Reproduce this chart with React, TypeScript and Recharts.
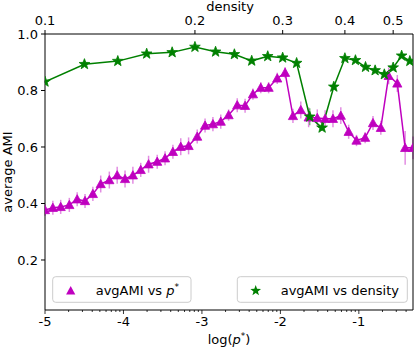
import React from "react"
import { LineChart, Line, XAxis, YAxis, ErrorBar } from "recharts"

// avgAMI vs log(p*)  (bottom axis)
const logP = [
  -5.0, -4.9, -4.8, -4.69, -4.59, -4.49, -4.39, -4.29, -4.18, -4.08,
  -3.98, -3.88, -3.78, -3.68, -3.57, -3.47, -3.37, -3.27, -3.17, -3.06,
  -2.96, -2.86, -2.76, -2.66, -2.55, -2.45, -2.35, -2.25, -2.15, -2.04,
  -1.94, -1.84, -1.74, -1.64, -1.53, -1.43, -1.33, -1.23, -1.13, -1.03,
  -0.92, -0.82, -0.72, -0.62, -0.51, -0.41, -0.31,
]
const amiP = [
  0.377, 0.385, 0.388, 0.395, 0.415, 0.409, 0.434, 0.469, 0.483, 0.5,
  0.487, 0.5, 0.519, 0.539, 0.548, 0.56, 0.583, 0.601, 0.604, 0.637,
  0.676, 0.681, 0.69, 0.713, 0.748, 0.746, 0.787, 0.81, 0.81, 0.843,
  0.863, 0.71, 0.731, 0.705, 0.703, 0.7, 0.7, 0.711, 0.654, 0.623,
  0.633, 0.685, 0.668, 0.852, 0.825, 0.597, 0.597,
]
const errP = [
  0.02, 0.025, 0.025, 0.025, 0.025, 0.025, 0.025, 0.03, 0.03, 0.03,
  0.03, 0.03, 0.025, 0.03, 0.025, 0.025, 0.025, 0.03, 0.03, 0.025,
  0.025, 0.025, 0.025, 0.02, 0.025, 0.025, 0.02, 0.02, 0.02, 0.02,
  0.02, 0.025, 0.03, 0.035, 0.03, 0.03, 0.03, 0.03, 0.025, 0.02,
  0.02, 0.025, 0.025, 0.03, 0.03, 0.06, 0.04,
]

// avgAMI vs density  (top axis, log scale)
const density = [
  0.1, 0.12, 0.14, 0.16, 0.18, 0.2, 0.22, 0.24, 0.26, 0.28, 0.3, 0.32,
  0.34, 0.36, 0.38, 0.4, 0.42, 0.44, 0.46, 0.48, 0.5, 0.52, 0.54,
]
const amiD = [
  0.831, 0.893, 0.904, 0.93, 0.935, 0.954, 0.937, 0.928, 0.905, 0.921,
  0.916, 0.897, 0.707, 0.668, 0.813, 0.914, 0.907, 0.883, 0.871, 0.857,
  0.881, 0.923, 0.904,
]
const errD = [
  0.004, 0.004, 0.004, 0.004, 0.004, 0.004, 0.004, 0.004, 0.004, 0.004,
  0.004, 0.006, 0.03, 0.01, 0.006, 0.004, 0.004, 0.004, 0.004, 0.004,
  0.004, 0.004, 0.004,
]

const bottomTicks = [-5, -4, -3, -2, -1]
const densityTicks = [0.1, 0.2, 0.3, 0.4, 0.5]
const yTicks = [0.2, 0.4, 0.6, 0.8, 1.0]

const MAGENTA = "#bf00bf"
const GREEN = "#008000"
const FONT = "DejaVu Sans"

const pData = logP.map((lp, i) => ({ lp, ami: amiP[i], err: errP[i] }))
const dData = density.map((d, i) => ({ d, ami: amiD[i], err: errD[i] }))

// log-style minor ticks between the integer ticks
const minorTicks: number[] = []
bottomTicks.forEach((n) => {
  for (let k = 2; k <= 9; k++) {
    const v = n + Math.log10(k)
    if (v < -0.31) minorTicks.push(v)
  }
})
const allBottomTicks = [...bottomTicks, ...minorTicks].sort((a, b) => a - b)

const triPoints = (cx: number, cy: number, r = 4.6) =>
  `${cx},${cy - r} ${cx - r},${cy + r * 0.8} ${cx + r},${cy + r * 0.8}`

const starPoints = (cx: number, cy: number, R = 5.6, r = 2.3) => {
  const pts: string[] = []
  for (let i = 0; i < 10; i++) {
    const rad = i % 2 === 0 ? R : r
    const a = -Math.PI / 2 + (i * Math.PI) / 5
    pts.push(`${cx + rad * Math.cos(a)},${cy + rad * Math.sin(a)}`)
  }
  return pts.join(" ")
}

const TriDot = (props: any) => {
  const { cx, cy, index } = props
  if (cx == null || cy == null) return <g key={index} />
  return <polygon key={index} points={triPoints(cx, cy)} fill={MAGENTA} stroke={MAGENTA} strokeWidth={0.8} />
}

const StarDot = (props: any) => {
  const { cx, cy, index } = props
  if (cx == null || cy == null) return <g key={index} />
  return <polygon key={index} points={starPoints(cx, cy)} fill={GREEN} stroke={GREEN} strokeWidth={0.8} />
}

const BottomTick = (props: any) => {
  const { x, y, payload } = props
  const major = bottomTicks.includes(payload.value)
  return (
    <g>
      <line x1={x} x2={x} y1={y} y2={y + (major ? 4 : 2)} stroke="#000" strokeWidth={0.8} />
      {major && (
        <text x={x} y={y + 16} textAnchor="middle" fontSize={13} fontFamily={FONT} fill="#000">
          {payload.value}
        </text>
      )}
    </g>
  )
}

export default function App() {
  return (
    <div style={{ position: "relative", width: 415, height: 349, fontFamily: FONT }}>
      <style>{"body{margin:0}"}</style>
      <LineChart width={415} height={349} margin={{ top: 0, right: 0, bottom: 0, left: 0 }}>
        <XAxis
          xAxisId="bottom"
          dataKey="lp"
          type="number"
          domain={[-5, -0.31]}
          allowDataOverflow
          ticks={allBottomTicks}
          interval={0}
          tick={<BottomTick />}
          tickLine={false}
          tickSize={0}
          tickMargin={0}
          height={39}
          axisLine={{ stroke: "#000" }}
        />
        <XAxis
          xAxisId="top"
          orientation="top"
          dataKey="d"
          type="number"
          scale="log"
          domain={[0.1, 0.548]}
          allowDataOverflow
          ticks={densityTicks}
          interval={0}
          tickFormatter={(v: number) => v.toFixed(1)}
          tick={{ fontSize: 13, fill: "#000", fontFamily: FONT }}
          tickLine={{ stroke: "#000" }}
          tickSize={4}
          tickMargin={5}
          height={34}
          axisLine={{ stroke: "#000" }}
        />
        <YAxis
          type="number"
          domain={[0.023, 1.0]}
          allowDataOverflow
          ticks={yTicks}
          interval={0}
          tickFormatter={(v: number) => v.toFixed(1)}
          tick={{ fontSize: 13, fill: "#000", fontFamily: FONT }}
          tickLine={{ stroke: "#000" }}
          tickSize={4}
          tickMargin={3}
          width={45}
          axisLine={{ stroke: "#000" }}
        />
        <YAxis yAxisId="r" orientation="right" width={2} tick={false} tickLine={false} axisLine={{ stroke: "#000" }} />
        <Line
          xAxisId="bottom"
          data={pData}
          dataKey="ami"
          stroke={MAGENTA}
          strokeWidth={1.5}
          dot={TriDot}
          activeDot={false}
          isAnimationActive={false}
        >
          <ErrorBar dataKey="err" direction="y" width={0} stroke={MAGENTA} strokeOpacity={0.45} strokeWidth={1.5} />
        </Line>
        <Line
          xAxisId="top"
          data={dData}
          dataKey="ami"
          stroke={GREEN}
          strokeWidth={1.5}
          dot={StarDot}
          activeDot={false}
          isAnimationActive={false}
        >
          <ErrorBar dataKey="err" direction="y" width={0} stroke={GREEN} strokeOpacity={0.5} strokeWidth={1.5} />
        </Line>
      </LineChart>
      <svg width={415} height={349} style={{ position: "absolute", left: 0, top: 0, pointerEvents: "none" }}>
        <text x={230} y={11} textAnchor="middle" fontSize={13} fontFamily={FONT} fill="#000">density</text>
        <text x={229} y={344} textAnchor="middle" fontSize={13} fontFamily={FONT} fill="#000">
          log(<tspan fontStyle="italic">p</tspan>
          <tspan fontSize={9} dy={-5}>*</tspan>
          <tspan dy={5}>)</tspan>
        </text>
        <text
          x={12}
          y={172}
          textAnchor="middle"
          fontSize={13}
          fontFamily={FONT}
          fill="#000"
          transform="rotate(-90 12 172)"
        >
          average AMI
        </text>
        <rect x={52.7} y={276.7} width={138.3} height={25.6} rx={3} fill="#fff" fillOpacity={0.8} stroke="#cccccc" />
        <polygon points={triPoints(70.7, 290.7)} fill={MAGENTA} />
        <text x={95.7} y={294.5} fontSize={13} fontFamily={FONT} fill="#000">
          avgAMI vs <tspan fontStyle="italic">p</tspan>
          <tspan fontSize={9} dy={-5}>*</tspan>
        </text>
        <rect x={237.3} y={276.7} width={170} height={25.6} rx={3} fill="#fff" fillOpacity={0.8} stroke="#cccccc" />
        <polygon points={starPoints(255.7, 290.7)} fill={GREEN} />
        <text x={280.7} y={294.5} fontSize={13} fontFamily={FONT} fill="#000">avgAMI vs density</text>
      </svg>
    </div>
  )
}
